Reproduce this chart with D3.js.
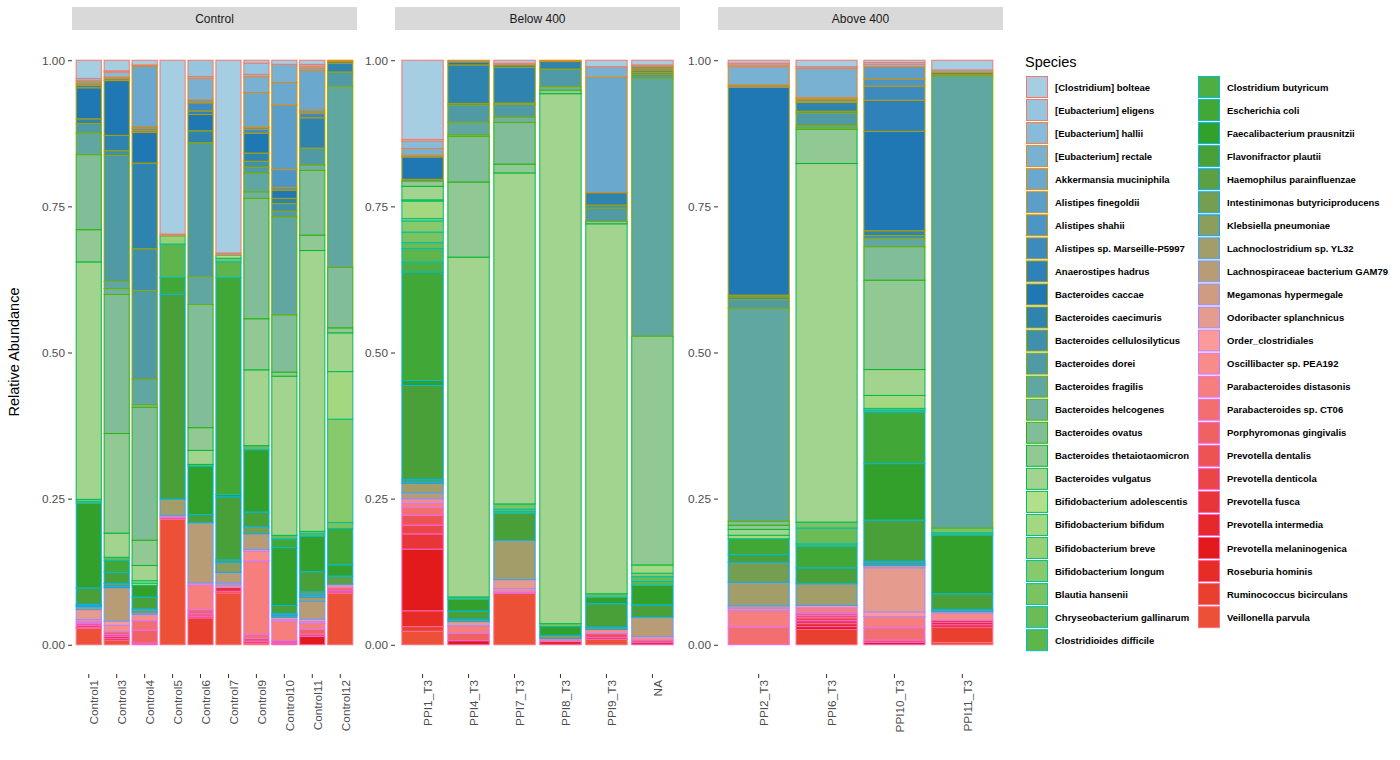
<!DOCTYPE html>
<html>
<head>
<meta charset="utf-8">
<script src="https://cdn.jsdelivr.net/npm/d3@7"></script>
<style>
  body { margin: 0; background: #fff; }
  svg text { font-family: "Liberation Sans", Arial, sans-serif; }
</style>
</head>
<body>
<div id="viz-container"></div>
<script>
// species, in legend order (first one is drawn on top of each bar)
const species = ["[Clostridium] bolteae","[Eubacterium] eligens","[Eubacterium] hallii","[Eubacterium] rectale",
  "Akkermansia muciniphila","Alistipes finegoldii","Alistipes shahii","Alistipes sp. Marseille-P5997",
  "Anaerostipes hadrus","Bacteroides caccae","Bacteroides caecimuris","Bacteroides cellulosilyticus",
  "Bacteroides dorei","Bacteroides fragilis","Bacteroides helcogenes","Bacteroides ovatus",
  "Bacteroides thetaiotaomicron","Bacteroides vulgatus","Bifidobacterium adolescentis","Bifidobacterium bifidum",
  "Bifidobacterium breve","Bifidobacterium longum","Blautia hansenii","Chryseobacterium gallinarum",
  "Clostridioides difficile","Clostridium butyricum","Escherichia coli","Faecalibacterium prausnitzii",
  "Flavonifractor plautii","Haemophilus parainfluenzae","Intestinimonas butyriciproducens","Klebsiella pneumoniae",
  "Lachnoclostridium sp. YL32","Lachnospiraceae bacterium GAM79","Megamonas hypermegale","Odoribacter splanchnicus",
  "Order_clostridiales","Oscillibacter sp. PEA192","Parabacteroides distasonis","Parabacteroides sp. CT06",
  "Porphyromonas gingivalis","Prevotella dentalis","Prevotella denticola","Prevotella fusca",
  "Prevotella intermedia","Prevotella melaninogenica","Roseburia hominis","Ruminococcus bicirculans",
  "Veillonella parvula"];

const facets = ["Control", "Below 400", "Above 400"];
const controlSamples = ["Control1","Control3","Control4","Control5","Control6","Control7","Control9","Control10","Control11","Control12"];
const below400Samples = ["PPI1_T3","PPI4_T3","PPI7_T3","PPI8_T3","PPI9_T3","NA"];
const above400Samples = ["PPI2_T3","PPI6_T3","PPI10_T3","PPI11_T3"];
const yTicks = [0, 0.25, 0.5, 0.75, 1];

// ramp colours (Paired, first 7)
const paired = ["#A6CEE3","#1F78B4","#B2DF8A","#33A02C","#FB9A99","#E31A1C","#FDBF6F"];

// [species index, relative abundance]
const control1 = [[0,.031],[2,.004],[4,.005],[5,.003],[8,.004],[9,.053],[10,.008],[12,.016],[13,.037],[15,.128],[16,.055],[17,.405],[19,.003],[24,.004],[27,.144],[28,.028],[30,.002],[31,.002],[32,.005],[35,.017],[37,.004],[38,.003],[41,.003],[43,.003],[44,.002],[48,.028]];
const control3 = [[0,.018],[1,.002],[2,.0085],[4,.003],[7,.003],[9,.093],[10,.026],[11,.008],[12,.214],[13,.012],[14,.010],[15,.236],[16,.169],[17,.041],[23,.005],[26,.0205],[28,.019],[30,.004],[31,.003],[33,.057],[36,.007],[37,.011],[40,.005],[42,.003],[44,.003],[45,.003],[48,.008]];
const control4 = [[0,.008],[3,.002],[4,.103],[5,.003],[6,.004],[7,.003],[9,.052],[10,.146],[11,.071],[12,.151],[13,.043],[14,.005],[15,.226],[16,.043],[17,.026],[18,.004],[19,.004],[27,.020],[28,.020],[31,.005],[32,.004],[37,.011],[39,.016],[40,.022],[42,.003]];
const control5 = [[0,.296],[3,.003],[20,.014],[24,.057],[26,.0285],[28,.349],[32,.028],[37,.003],[41,.003],[48,.214]];
const control6 = [[1,.028],[2,.003],[3,.037],[5,.005],[7,.014],[8,.006],[9,.028],[10,.0205],[12,.229],[13,.048],[15,.211],[16,.039],[17,.024],[23,.003],[27,.083],[28,.014],[33,.103],[37,.004],[38,.042],[40,.007],[41,.004],[43,.003],[47,.046]];
const control7 = [[0,.327],[3,.004],[18,.005],[22,.006],[24,.027],[26,.368],[27,.004],[28,.107],[29,.004],[31,.017],[33,.018],[34,.004],[37,.004],[44,.006],[46,.003],[48,.088]];
const control9 = [[0,.005],[1,.019],[2,.004],[3,.027],[4,.059],[6,.004],[7,.006],[9,.034],[10,.014],[11,.010],[12,.010],[13,.032],[14,.011],[15,.205],[16,.087],[17,.129],[23,.007],[27,.106],[28,.025],[30,.012],[33,.027],[36,.003],[37,.016],[38,.125],[39,.007],[41,.005],[44,.003],[48,.003]];
const control10 = [[0,.007],[3,.031],[4,.039],[5,.110],[6,.031],[7,.004],[9,.014],[10,.009],[11,.013],[12,.010],[13,.167],[15,.098],[16,.007],[17,.272],[23,.006],[26,.015],[27,.099],[28,.014],[30,.003],[31,.003],[36,.004],[37,.003],[38,.033],[40,.004],[43,.003]];
const control11 = [[0,.007],[1,.003],[2,.003],[3,.004],[4,.067],[5,.005],[7,.008],[10,.051],[12,.0285],[14,.009],[15,.109],[16,.026],[17,.473],[22,.004],[23,.004],[27,.060],[28,.034],[30,.005],[31,.004],[32,.007],[33,.030],[36,.004],[37,.003],[38,.010],[40,.008],[41,.004],[45,.014]];
const control12 = [[4,.002],[8,.003],[10,.015],[12,.0245],[13,.308],[15,.103],[16,.0085],[17,.066],[19,.081],[21,.176],[22,.010],[26,.062],[27,.019],[29,.014],[37,.006],[40,.005],[41,.004],[48,.088]];

const ppi1 = [[0,.135],[1,.003],[2,.0125],[3,.0115],[5,.003],[9,.038],[11,.003],[16,.009],[17,.023],[18,.002],[19,.030],[20,.004],[21,.019],[22,.018],[23,.010],[24,.023],[25,.017],[26,.185],[27,.0085],[28,.160],[29,.004],[30,.003],[32,.016],[33,.010],[37,.008],[38,.007],[39,.013],[41,.017],[42,.015],[43,.026],[45,.105],[46,.027],[47,.008],[48,.023]];
const ppi4 = [[4,.003],[9,.005],[10,.066],[11,.003],[12,.0285],[13,.021],[14,.003],[15,.078],[16,.128],[17,.579],[23,.004],[27,.020],[28,.014],[30,.004],[35,.007],[38,.013],[40,.0125],[45,.007]];
const ppi7 = [[0,.005],[3,.003],[8,.004],[10,.061],[11,.002],[12,.022],[14,.009],[15,.071],[16,.015],[17,.564],[22,.009],[23,.004],[24,.003],[28,.046],[32,.067],[35,.015],[37,.006],[40,.002],[48,.088]];
const ppi8 = [[4,.002],[10,.013],[12,.030],[14,.006],[16,.006],[17,.903],[22,.005],[27,.015],[31,.005],[38,.005],[44,.006]];
const ppi9 = [[0,.011],[3,.018],[4,.197],[10,.021],[11,.005],[12,.023],[16,.004],[17,.631],[23,.006],[27,.011],[28,.040],[30,.004],[37,.007],[41,.007],[44,.003],[48,.009]];
const naSample = [[0,.008],[3,.003],[6,.004],[8,.003],[9,.003],[11,.003],[12,.006],[13,.440],[16,.390],[19,.014],[21,.006],[23,.008],[24,.007],[27,.033],[28,.021],[33,.033],[37,.006],[41,.004],[44,.004]];

const ppi2 = [[0,.005],[1,.003],[2,.003],[3,.031],[5,.004],[9,.354],[10,.003],[11,.005],[12,.014],[13,.363],[15,.007],[16,.007],[17,.010],[19,.006],[26,.027],[28,.013],[30,.034],[32,.040],[34,.004],[37,.004],[38,.0285],[39,.030]];
const ppi6 = [[0,.011],[2,.003],[3,.050],[4,.003],[6,.003],[8,.002],[10,.015],[11,.003],[12,.021],[13,.004],[14,.003],[16,.058],[17,.611],[22,.010],[23,.027],[24,.004],[26,.037],[28,.027],[32,.037],[36,.004],[38,.009],[40,.004],[41,.004],[42,.005],[43,.005],[44,.005],[45,.005],[47,.026]];
const ppi10 = [[0,.004],[1,.003],[2,.004],[5,.021],[6,.012],[7,.024],[8,.053],[9,.169],[10,.008],[11,.005],[13,.014],[15,.057],[16,.152],[17,.044],[19,.022],[22,.003],[24,.003],[26,.088],[27,.096],[28,.070],[30,.004],[31,.003],[34,.004],[35,.075],[36,.008],[38,.019],[39,.021],[41,.004],[45,.004]];
const ppi11 = [[0,.0165],[3,.004],[9,.003],[11,.003],[13,.771],[22,.008],[24,.004],[27,.100],[28,.027],[31,.003],[34,.003],[37,.012],[43,.004],[44,.004],[45,.004],[47,.026],[48,.004]];

const panelSamples = [controlSamples, below400Samples, above400Samples];
const panelData = [
  [control1, control3, control4, control5, control6, control7, control9, control10, control11, control12],
  [ppi1, ppi4, ppi7, ppi8, ppi9, naSample],
  [ppi2, ppi6, ppi10, ppi11]
];

// fill: Paired ramp stretched to 55 steps, first 49 used
const ramp = d3.piecewise(d3.interpolateRgb, paired);
const fills = species.map((s, i) => ramp(i / 54));

// outline: ggplot default hue palette (polar LUV)
function hclColor(h, c, l) {
  const hr = h * Math.PI / 180;
  const U = c * Math.cos(hr), V = c * Math.sin(hr);
  const Xn = 95.047, Yn = 100, Zn = 108.883;
  const un = 4 * Xn / (Xn + 15 * Yn + 3 * Zn), vn = 9 * Yn / (Xn + 15 * Yn + 3 * Zn);
  const Y = Yn * (l > 7.999592 ? Math.pow((l + 16) / 116, 3) : l / 903.3);
  const u = U / (13 * l) + un, v = V / (13 * l) + vn;
  const X = 9 * Y * u / (4 * v);
  const Z = -X / 3 - 5 * Y + 3 * Y / v;
  const x = X / 100, y = Y / 100, z = Z / 100;
  let rgb = [
    3.240479 * x - 1.537150 * y - 0.498535 * z,
    -0.969256 * x + 1.875992 * y + 0.041556 * z,
    0.055648 * x - 0.204043 * y + 1.057311 * z
  ];
  rgb = rgb.map(t => {
    t = t <= 0.0031308 ? 12.92 * t : 1.055 * Math.pow(t, 1 / 2.4) - 0.055;
    return Math.round(Math.max(0, Math.min(1, t)) * 255);
  });
  return d3.rgb(rgb[0], rgb[1], rgb[2]).formatHex();
}
const outlines = species.map((s, i) => hclColor(15 + 360 * i / species.length, 100, 65));

const W = 1400, H = 760;
const svg = d3.select("#viz-container").append("svg")
  .attr("width", W).attr("height", H);

const panelX = [72, 395, 718];
const panelW = 285;
const panelTop = 31, panelBottom = 674;

const y = d3.scaleLinear().domain([-0.05, 1.05]).range([panelBottom, panelTop]);

facets.forEach((facet, p) => {
  const x0 = panelX[p];
  const g = svg.append("g");

  // strip
  g.append("rect").attr("x", x0).attr("y", 7).attr("width", panelW).attr("height", 23)
    .attr("fill", "#D9D9D9");
  g.append("text").attr("x", x0 + panelW / 2).attr("y", 22.8)
    .attr("text-anchor", "middle").attr("font-size", "12px").attr("fill", "#1A1A1A")
    .text(facet);

  const x = d3.scaleBand().domain(panelSamples[p])
    .range([x0, x0 + panelW]).paddingInner(0.1).paddingOuter(0.15);

  panelSamples[p].forEach((sample, k) => {
    const entries = panelData[p][k].slice().sort((a, b) => b[0] - a[0]);
    const total = d3.sum(entries, e => e[1]);
    let cum = 0;
    const segs = entries.map(e => {
      const v = e[1] / total;
      const s = { idx: e[0], y0: cum, y1: cum + v };
      cum += v;
      return s;
    });
    g.selectAll(null).data(segs).enter().append("rect")
      .attr("x", x(sample))
      .attr("width", x.bandwidth())
      .attr("y", d => y(d.y1))
      .attr("height", d => y(d.y0) - y(d.y1))
      .attr("fill", d => fills[d.idx])
      .attr("stroke", d => outlines[d.idx])
      .attr("stroke-width", 1);
  });

  // y axis
  const ya = g.append("g").attr("transform", `translate(${x0},0)`)
    .call(d3.axisLeft(y).tickValues(yTicks).tickFormat(d3.format(".2f")).tickSize(4).tickPadding(3));
  ya.select(".domain").remove();
  ya.selectAll("line").attr("stroke", "#333333");
  ya.selectAll("text").attr("font-size", "11.8px").attr("fill", "#4D4D4D")
    .attr("font-family", "'Liberation Sans', Arial, sans-serif");

  // x axis
  const xa = g.append("g").attr("transform", `translate(0,${panelBottom})`)
    .call(d3.axisBottom(x).tickSize(4));
  xa.select(".domain").remove();
  xa.selectAll("line").attr("stroke", "#333333");
  xa.selectAll("text")
    .attr("font-size", "11.8px").attr("fill", "#4D4D4D")
    .attr("font-family", "'Liberation Sans', Arial, sans-serif")
    .attr("text-anchor", "end")
    .attr("x", -6).attr("y", 0).attr("dy", "0.8em")
    .attr("transform", "rotate(-90)");
});

// y title
svg.append("text")
  .attr("transform", "translate(19,352) rotate(-90)")
  .attr("text-anchor", "middle").attr("font-size", "14.5px").attr("fill", "#000")
  .text("Relative Abundance");

// legend
const leg = svg.append("g");
leg.append("text").attr("x", 1025).attr("y", 67).attr("font-size", "14.5px").attr("fill", "#000")
  .text("Species");
const perCol = 25;
species.forEach((s, i) => {
  const col = Math.floor(i / perCol), row = i % perCol;
  const kx = 1026 + col * 172, ky = 76 + row * 23.05;
  leg.append("rect").attr("x", kx + 0.5).attr("y", ky + 0.5).attr("width", 21).attr("height", 21)
    .attr("fill", fills[i]).attr("stroke", outlines[i]).attr("stroke-width", 1);
  leg.append("text").attr("x", kx + 29).attr("y", ky + 14.5)
    .attr("font-size", "9.5px").attr("font-weight", "bold").attr("fill", "#000")
    .text(s);
});
</script>
</body>
</html>
